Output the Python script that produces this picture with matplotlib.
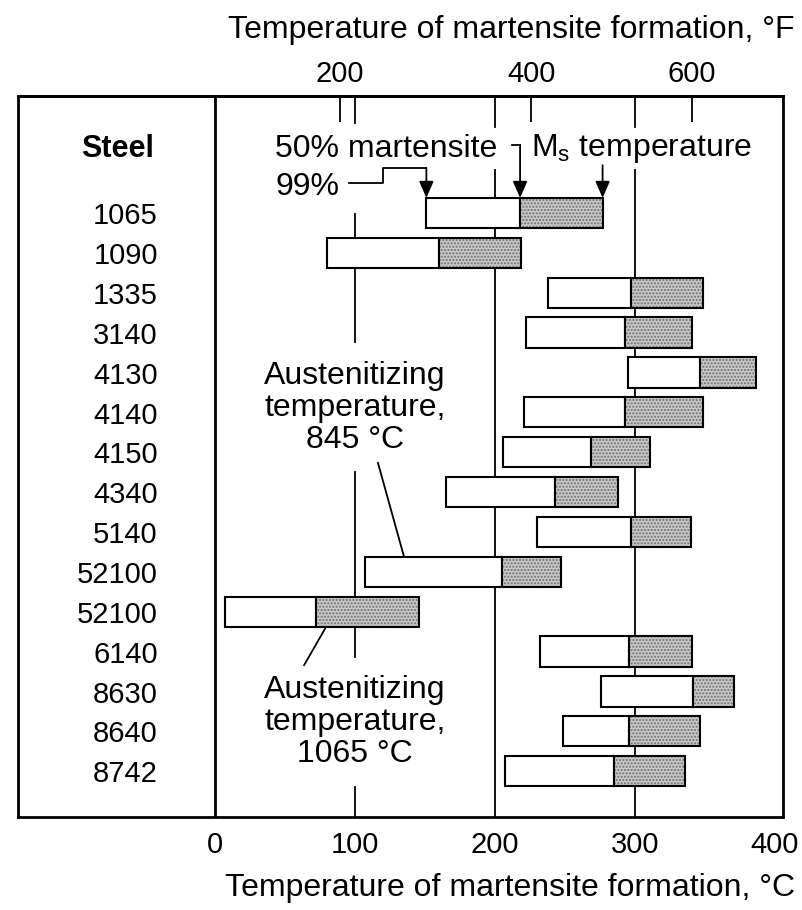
import matplotlib.pyplot as plt
import numpy as np

# Martensite formation temperatures (deg C)
steels = ['1065', '1090', '1335', '3140', '4130', '4140', '4150', '4340',
          '5140', '52100', '52100', '6140', '8630', '8640', '8742']
m99 = [151, 80, 238, 222, 295, 221, 206, 165, 230, 107, 7, 232, 276, 249, 207]
m50 = [218, 160, 297, 293, 347, 293, 269, 243, 297, 205, 72, 296, 342, 296, 285]
ms = [277, 219, 349, 341, 387, 349, 311, 288, 340, 247, 146, 341, 371, 347, 336]

c_ticks = [0, 100, 200, 300, 400]
f_ticks_at_c = [89, 226, 341]   # where the deg F ticks sit on the deg C scale
f_labels = ['200', '400', '600']

plt.rcParams['font.family'] = ['Liberation Sans', 'DejaVu Sans']
FS = 23      # annotations and axis titles
FN = 21      # numbers

fig = plt.figure(figsize=(8.03, 9.10), dpi=100, facecolor='white')
ax = fig.add_axes([18 / 803, 1 - 817 / 910, 765 / 803, 721 / 910])
ax.set_xlim(-141, 406)
ax.set_ylim(15.15, -2.935)

rows = np.arange(len(steels))
m99 = np.array(m99); m50 = np.array(m50); ms = np.array(ms)
h = 0.76

# vertical reference lines (broken where labels sit)
ref_segments = {
    100: [(-2.935, -2.26), (0.03, 3.24), (6.5, 11.14), (14.4, 15.15)],
    200: [(-2.935, -2.16), (-1.08, 15.15)],
    300: [(-2.935, -2.16), (-1.08, 15.15)],
}
for x, segs in ref_segments.items():
    for y0, y1 in segs:
        ax.plot([x, x], [y0, y1], color='black', lw=1.3, zorder=1)
ax.axvline(0, color='black', lw=2, zorder=1)

# bars: 99% -> 50% (open), 50% -> Ms (stippled)
ax.barh(rows, m50 - m99, left=m99, height=h, color='white',
        edgecolor='black', lw=1.5, zorder=3)
ax.barh(rows, ms - m50, left=m50, height=h, color='#c8c8c8',
        edgecolor='#6e6e6e', hatch='.....', lw=0, zorder=3)
ax.barh(rows, ms - m50, left=m50, height=h, color='none',
        edgecolor='black', lw=1.5, zorder=4)

# steel names
ax.text(-70, -1.6, 'Steel', ha='center', va='center', fontsize=22, fontweight='bold')
for r, s in zip(rows, steels):
    ax.text(-41, r + 0.08, s, ha='right', va='center', fontsize=FN)

# annotations on the first bar
top0 = rows[0] - h / 2
arrow = dict(arrowstyle='-|>,head_length=0.5,head_width=0.22', color='black',
             lw=1.3, shrinkA=0, shrinkB=0, mutation_scale=20)
ax.text(43, -1.61, '50% martensite', ha='left', va='center', fontsize=FS)
ax.text(226, -1.61, r'M$_\mathregular{s}$ temperature', ha='left', va='center', fontsize=FS)
ax.text(43, -0.65, '99%', ha='left', va='center', fontsize=FS)

ax.plot([212, m50[0]], [-1.71, -1.71], color='black', lw=1.3)
ax.annotate('', xy=(m50[0], top0), xytext=(m50[0], -1.71), arrowprops=arrow)
ax.annotate('', xy=(ms[0], top0), xytext=(ms[0], -1.2), arrowprops=arrow)
ax.plot([96, 120, 120, m99[0]], [-0.75, -0.75, -1.13, -1.13], color='black', lw=1.3)
ax.annotate('', xy=(m99[0], top0), xytext=(m99[0], -1.13), arrowprops=arrow)

ax.text(100, 4.89, 'Austenitizing\ntemperature,\n845 \u00b0C', ha='center', va='center',
        fontsize=FS, linespacing=1.1)
ax.plot([116.4, 135], [6.27, rows[9] - h / 2], color='black', lw=1.3)
ax.text(100, 12.77, 'Austenitizing\ntemperature,\n1065 \u00b0C', ha='center', va='center',
        fontsize=FS, linespacing=1.1)
ax.plot([79.3, 63.6], [rows[10] + h / 2, 11.34], color='black', lw=1.3)

# axes
for sp in ax.spines.values():
    sp.set_linewidth(2)
ax.set_yticks([])
ax.set_xticks(c_ticks)
ax.tick_params(axis='x', length=0, pad=10, labelsize=FN)

sec = ax.secondary_xaxis('top')
sec.set_xticks(f_ticks_at_c, f_labels)
sec.tick_params(axis='x', direction='in', length=19, width=1.3, pad=6, labelsize=FN)
sec.spines['top'].set_linewidth(2)

fig.text(795 / 803, 1 - 888 / 910, 'Temperature of martensite formation, \u00b0C',
         ha='right', va='center', fontsize=FS)
fig.text(795 / 803, 1 - 30 / 910, 'Temperature of martensite formation, \u00b0F',
         ha='right', va='center', fontsize=FS)

fig.savefig('out.png', dpi=100, facecolor='white')
